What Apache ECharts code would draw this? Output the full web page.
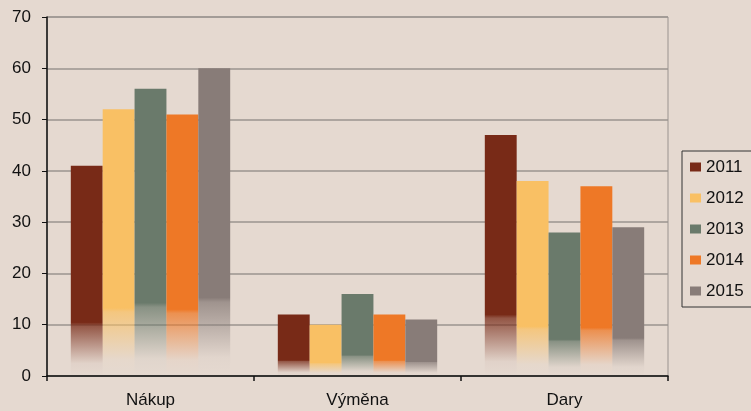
<!DOCTYPE html>
<html>
<head>
<meta charset="utf-8">
<script src="https://cdn.jsdelivr.net/npm/echarts@6/dist/echarts.min.js"></script>
<style>
  html, body { margin: 0; padding: 0; background: #e5d9d0; }
  #chart { width: 751px; height: 411px; }
</style>
</head>
<body>
<div id="chart"></div>
<script>
const categories = ['Nákup', 'Výměna', 'Dary']
const years = ['2011', '2012', '2013', '2014', '2015']
const values2011 = [41, 12, 47]
const values2012 = [52, 10, 38]
const values2013 = [56, 16, 28]
const values2014 = [51, 12, 37]
const values2015 = [60, 11, 29]
const seriesValues = [values2011, values2012, values2013, values2014, values2015]
const colors = [[120, 42, 23], [249, 192, 100], [106, 122, 107], [238, 120, 38], [136, 124, 120]]

const rgba = (c, a) => 'rgba(' + c[0] + ',' + c[1] + ',' + c[2] + ',' + a + ')'

// bars fade out towards the bottom
const fadeFill = (c) => new echarts.graphic.LinearGradient(0, 0, 0, 1, [
  { offset: 0, color: rgba(c, 1) },
  { offset: 0.745, color: rgba(c, 1) },
  { offset: 0.76, color: rgba(c, 0.75) },
  { offset: 0.94, color: rgba(c, 0.04) },
  { offset: 1, color: rgba(c, 0) }
])

const chart = echarts.init(document.getElementById('chart'))
chart.setOption({
  backgroundColor: '#e5d9d0',
  animation: false,
  textStyle: { fontFamily: 'Liberation Sans, Arial, sans-serif' },
  grid: {
    left: 47, right: 83, top: 17, bottom: 35,
    show: true, borderColor: '#9a938f', borderWidth: 1, backgroundColor: 'transparent'
  },
  legend: {
    orient: 'vertical',
    left: 682,
    top: 151,
    padding: [6, 60, 6, 8],
    borderColor: '#333',
    borderWidth: 1,
    itemWidth: 11,
    itemHeight: 9,
    itemGap: 11,
    icon: 'rect',
    data: years.map((y, i) => ({ name: y, itemStyle: { color: rgba(colors[i], 1) } })),
    textStyle: { fontSize: 17, color: '#111', lineHeight: 20 }
  },
  xAxis: {
    type: 'category',
    data: categories,
    axisLine: { lineStyle: { color: '#111', width: 1.5 } },
    axisTick: { show: true, length: 5, lineStyle: { color: '#111', width: 1.5 } },
    axisLabel: { fontSize: 17, color: '#111', margin: 16 }
  },
  yAxis: {
    type: 'value',
    min: 0,
    max: 70,
    interval: 10,
    axisLine: { show: true, lineStyle: { color: '#111', width: 1.5 } },
    axisTick: { show: true, length: 5, lineStyle: { color: '#111' } },
    axisLabel: { fontSize: 17, color: '#111', margin: 16 },
    splitLine: { lineStyle: { color: '#9a938f', width: 1.5 } }
  },
  series: years.map((y, i) => ({
    name: y,
    type: 'bar',
    data: seriesValues[i],
    barGap: '0%',
    barCategoryGap: '23%',
    color: rgba(colors[i], 1),
    itemStyle: { color: fadeFill(colors[i]) }
  }))
})
</script>
</body>
</html>
